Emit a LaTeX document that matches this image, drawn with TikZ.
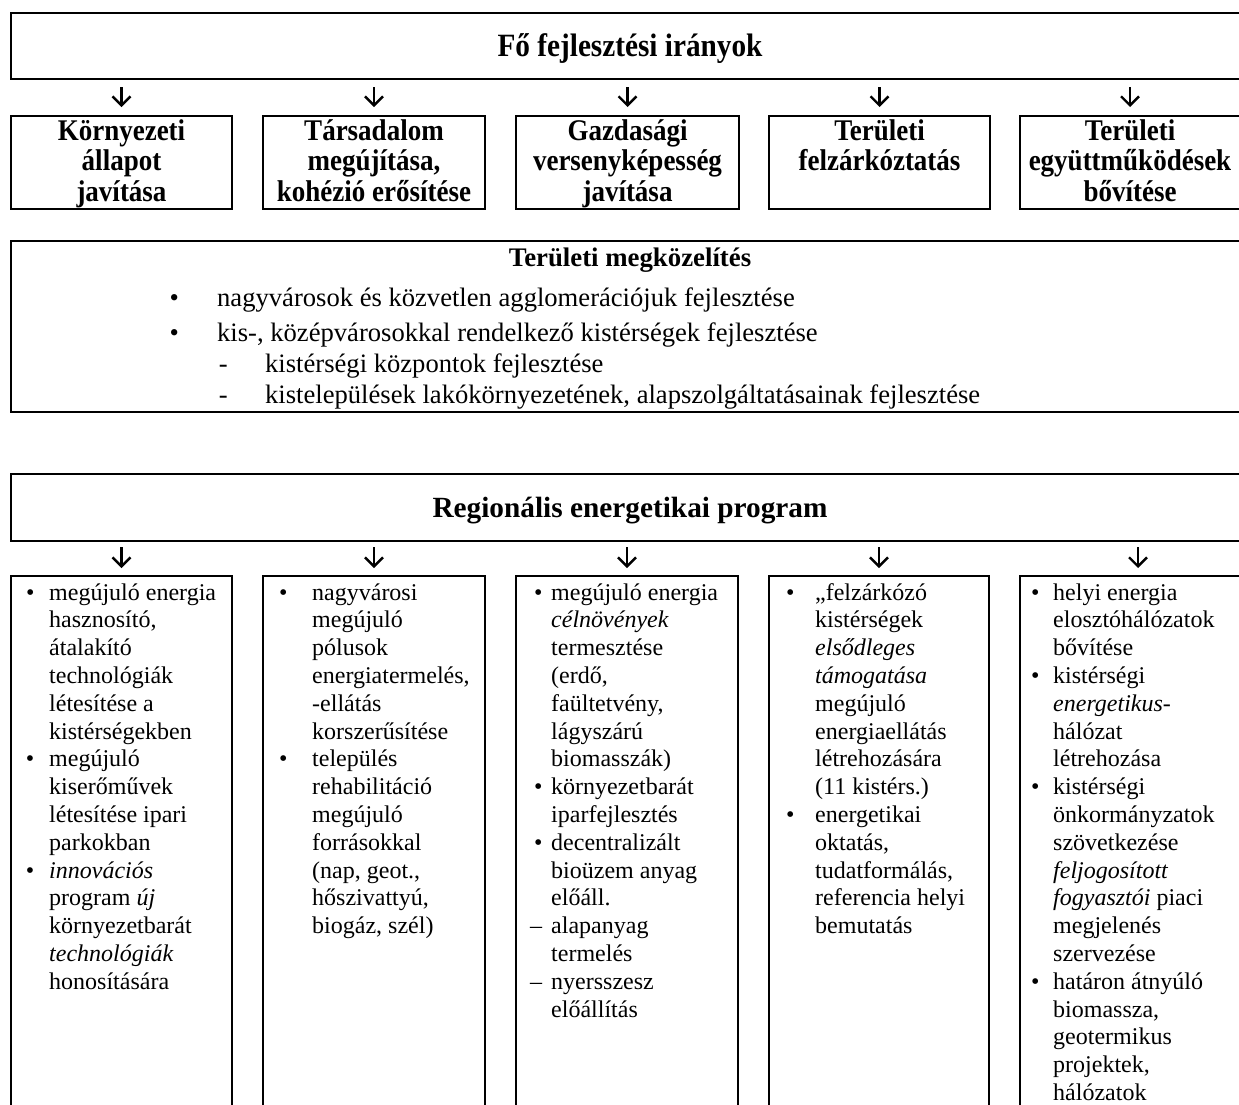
\documentclass[tikz,border=0pt]{standalone}
\usepackage{fontspec}
\setmainfont{Liberation Serif}
\newfontfamily\hdfont[FakeStretch=0.9]{Liberation Serif}
\usetikzlibrary{arrows.meta}
\newcommand\CLines[2]{\vtop{\baselineskip=#1\lineskiplimit=-1000pt\lineskip=0pt\halign{\hfil##\hfil\cr#2\crcr}}}
\newcommand\LLines[2]{\vtop{\baselineskip=#1\lineskiplimit=-1000pt\lineskip=0pt\halign{##\hfil\cr#2\crcr}}}
\newcommand\bul[1]{\llap{\makebox[#1][c]{\textbullet}}}
\newcommand\dsh[1]{\llap{\makebox[#1][c]{–}}}
\newcommand\hyp[1]{\llap{\makebox[#1][c]{-}}}
\tikzset{
  frame/.style={draw, line width=2pt, inner sep=0pt, outer sep=0pt, rectangle, anchor=north west},
  arr/.style={line width=2.4pt, -{Straight Barb[length=9pt,width=18pt]}},
  body/.style={inner sep=0pt, font=\fontsize{24}{27.8}\selectfont},
  midbody/.style={inner sep=0pt, font=\fontsize{26.6}{31}\selectfont},
  head/.style={inner sep=0pt, font=\hdfont\bfseries\fontsize{30}{30}\selectfont},
  toptitle/.style={inner sep=0pt, font=\hdfont\bfseries\fontsize{32.5}{32}\selectfont},
  midhead/.style={inner sep=0pt, font=\bfseries\fontsize{26.8}{30}\selectfont},
  reghead/.style={inner sep=0pt, font=\bfseries\fontsize{29.3}{30}\selectfont},
}
\begin{document}
\begin{tikzpicture}[x=1pt,y=-1pt]
\useasboundingbox (0,0) rectangle (1239,1104);
% ---------- section 1
\node[frame, minimum width=1237pt, minimum height=66pt] (top) at (11,13) {};
\node[toptitle, anchor=base] (toptitle) at (630,56) {Fő fejlesztési irányok};
\node[frame, minimum width=221pt, minimum height=93pt] (k1) at (11,116) {};
\node[frame, minimum width=222pt, minimum height=93pt] (k2) at (263,116) {};
\node[frame, minimum width=223pt, minimum height=93pt] (k3) at (516,116) {};
\node[frame, minimum width=221pt, minimum height=93pt] (k4) at (769,116) {};
\node[frame, minimum width=220pt, minimum height=93pt] (k5) at (1020,116) {};
\node[head, anchor=base] (k1t) at (121.5,140) {\CLines{30.5pt}{Környezeti\cr állapot\cr javítása}};
\node[head, anchor=base] (k2t) at (374,140) {\CLines{30.5pt}{Társadalom\cr megújítása,\cr kohézió erősítése}};
\node[head, anchor=base] (k3t) at (627.5,140) {\CLines{30.5pt}{Gazdasági\cr versenyképesség\cr javítása}};
\node[head, anchor=base] (k4t) at (879.5,140) {\CLines{30.5pt}{Területi\cr felzárkóztatás}};
\node[head, anchor=base] (k5t) at (1130,140) {\CLines{30.5pt}{Területi\cr együttműködések\cr bővítése}};
\foreach \k in {k1,k2,k3,k4,k5}
  \draw[arr, shorten <=8pt, shorten >=9pt] (\k.north |- top.south) -- (\k.north);
% ---------- section 2
\node[frame, minimum width=1237pt, minimum height=171pt] (mid) at (11,241) {};
\node[midhead, anchor=base] (midtitle) at (630,266) {Területi megközelítés};
\node[midbody, anchor=base west] (midlist) at (217,306) {\LLines{31pt}{%
\bul{86pt}nagyvárosok és közvetlen agglomerációjuk fejlesztése\cr
\noalign{\kern4pt}
\bul{86pt}kis-, középvárosokkal rendelkező kistérségek fejlesztése\cr
\hspace{48pt}\hyp{84pt}kistérségi központok fejlesztése\cr
\hspace{48pt}\hyp{84pt}kistelepülések lakókörnyezetének, alapszolgáltatásainak fejlesztése}};
% ---------- section 3
\node[frame, minimum width=1237pt, minimum height=67pt] (reg) at (11,474) {};
\node[reghead, anchor=base] (regtitle) at (630,517) {Regionális energetikai program};
\node[frame, minimum width=221pt, minimum height=600pt] (e1) at (11,576) {};
\node[frame, minimum width=222pt, minimum height=600pt] (e2) at (263,576) {};
\node[frame, minimum width=222pt, minimum height=600pt] (e3) at (516,576) {};
\node[frame, minimum width=220pt, minimum height=600pt] (e4) at (769,576) {};
\node[frame, minimum width=236pt, minimum height=600pt] (e5) at (1020,576) {};
\foreach \k in {e1,e2,e3,e4,e5}
  \draw[arr, shorten <=6pt, shorten >=8pt] (\k.north |- reg.south) -- (\k.north);
\node[body, anchor=base west] (e1t) at (49,600) {\LLines{27.8pt}{%
\bul{38pt}megújuló energia\cr hasznosító,\cr átalakító\cr technológiák\cr létesítése a\cr kistérségekben\cr
\bul{38pt}megújuló\cr kiserőművek\cr létesítése ipari\cr parkokban\cr
\bul{38pt}\textit{innovációs}\cr program \textit{új}\cr környezetbarát\cr \textit{technológiák}\cr honosítására}};
\node[body, anchor=base west] (e2t) at (312,600) {\LLines{27.8pt}{%
\bul{58pt}nagyvárosi\cr megújuló\cr pólusok\cr energiatermelés,\cr -ellátás\cr korszerűsítése\cr
\bul{58pt}település\cr rehabilitáció\cr megújuló\cr forrásokkal\cr (nap, geot.,\cr hőszivattyú,\cr biogáz, szél)}};
\node[body, anchor=base west] (e3t) at (551,600) {\LLines{27.8pt}{%
\bul{26pt}megújuló energia\cr \textit{célnövények}\cr termesztése\cr (erdő,\cr faültetvény,\cr lágyszárú\cr biomasszák)\cr
\bul{26pt}környezetbarát\cr iparfejlesztés\cr
\bul{26pt}decentralizált\cr bioüzem anyag\cr előáll.\cr
\dsh{30pt}alapanyag\cr termelés\cr
\dsh{30pt}nyersszesz\cr előállítás}};
\node[body, anchor=base west] (e4t) at (815,600) {\LLines{27.8pt}{%
\bul{50pt}„felzárkózó\cr kistérségek\cr \textit{elsődleges}\cr \textit{támogatása}\cr megújuló\cr energiaellátás\cr létrehozására\cr (11 kistérs.)\cr
\bul{50pt}energetikai\cr oktatás,\cr tudatformálás,\cr referencia helyi\cr bemutatás}};
\node[body, anchor=base west] (e5t) at (1053,600) {\LLines{27.8pt}{%
\bul{36pt}helyi energia\cr elosztóhálózatok\cr bővítése\cr
\bul{36pt}kistérségi\cr \textit{energetikus}-\cr hálózat\cr létrehozása\cr
\bul{36pt}kistérségi\cr önkormányzatok\cr szövetkezése\cr \textit{feljogosított}\cr \textit{fogyasztói} piaci\cr megjelenés\cr szervezése\cr
\bul{36pt}határon átnyúló\cr biomassza,\cr geotermikus\cr projektek,\cr hálózatok}};
\end{tikzpicture}
\end{document}
